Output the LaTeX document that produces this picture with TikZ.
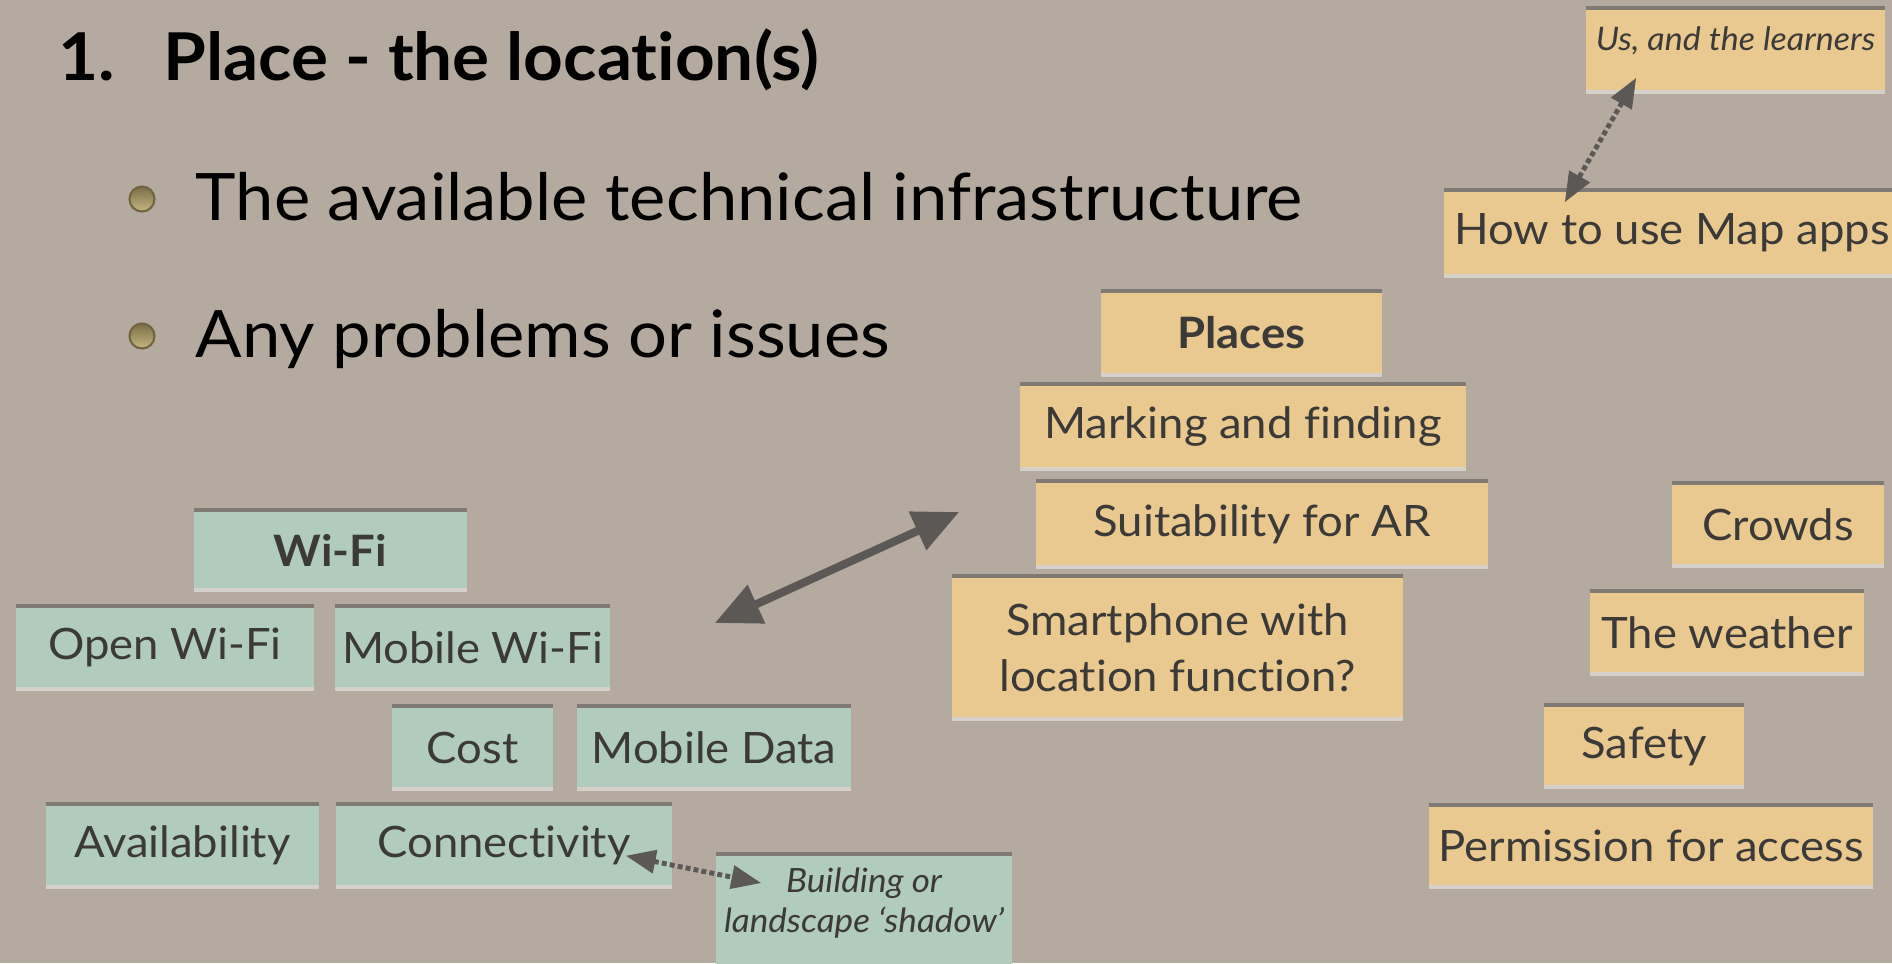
\documentclass[tikz,border=0pt]{standalone}
\usepackage{fontspec}
\setmainfont{Lato}[FakeStretch=1.05,Ligatures={TeX,NoCommon}]
\usepackage{tikz}
\usetikzlibrary{
  positioning, arrows.meta, shadows
}

\definecolor{board}{HTML}{B4AAA0}
\definecolor{cardtan}{HTML}{E9C98F}
\definecolor{sage}{HTML}{B1CBBC}
\definecolor{ink}{HTML}{3B3A39}
\definecolor{arrowgrey}{HTML}{5B5855}
\definecolor{bulletgold}{HTML}{BCA96C}

\tikzset{
  card/.style={rectangle,inner sep=0pt,text=ink,font=\fontsize{12.3}{15.9}\selectfont,
    drop shadow={shadow xshift=0pt,shadow yshift=1.1pt,opacity=0.4,fill=black!80},
    drop shadow={shadow xshift=0pt,shadow yshift=-1pt,opacity=0.45,fill=white}},
  tancard/.style={card,fill=cardtan},
  sagecard/.style={card,fill=sage},
  note/.style={font=\fontsize{9.5}{11.4}\selectfont\itshape},
  heading/.style={anchor=base west,inner sep=0pt,font=\fontsize{18.6}{23}\selectfont},
  bullet/.style={circle,minimum size=0.25cm,inner sep=0pt,draw=black!40!bulletgold,line width=0.6pt,
    top color=bulletgold!65!black,bottom color=bulletgold!85!white},
  link/.style={arrowgrey,line width=2.3pt,
    {Triangle[length=13pt,width=11.5pt]}-{Triangle[length=13pt,width=11.5pt]}},
  dotlink/.style={arrowgrey,line width=1.4pt,dash pattern=on 1.4pt off 0.9pt,
    {Triangle[length=8.5pt,width=6.5pt]}-{Triangle[length=8.5pt,width=6.5pt]}}
}

\begin{document}
\begin{tikzpicture}[x=0.01cm,y=-0.01cm]
  \useasboundingbox (0,0) rectangle (1892,963);
  \clip (0,0) rectangle (1892,963);
  \fill[board] (0,0) rectangle (1892,963);

  \node at (58,80) [heading,font=\fontsize{18.75}{23}\selectfont\bfseries] (num) {1.};
  \node at (163,80) [heading,font=\fontsize{18.75}{23}\selectfont\bfseries] (title) {Place - the location(s)};
  \node at (142,199) [bullet] (dotone) {};
  \node at (195,220) [heading] (itemone) {The available technical infrastructure};
  \node at (142,336) [bullet] (dottwo) {};
  \node at (195,357) [heading] (itemtwo) {Any problems or issues};

  \node at (1735.5,50) [tancard,note,font=\fontsize{9.2}{11.4}\selectfont\itshape,minimum width=2.99cm,minimum height=0.8cm,text height=0.4cm,text depth=0.4cm] (us) {Us, and the learners};
  \node at (1672,233) [tancard,minimum width=4.55cm,minimum height=0.82cm] (how) {How to use Map apps};
  \node at (1241.5,333) [tancard,minimum width=2.81cm,minimum height=0.8cm,font=\fontsize{12.3}{15.9}\selectfont\bfseries] (places) {Places};
  \node at (1243,426.5) [tancard,minimum width=4.46cm,minimum height=0.81cm] (marking) {Marking and finding};
  \node at (1262,524) [tancard,minimum width=4.52cm,minimum height=0.82cm] (suit) {Suitability for AR};
  \node at (1778,524.5) [tancard,minimum width=2.12cm,minimum height=0.79cm] (crowds) {Crowds};
  \node at (1177.5,647.5) [tancard,align=center,minimum width=4.51cm,minimum height=1.39cm] (smart) {Smartphone with\\location function?};
  \node at (1727,632.5) [tancard,minimum width=2.74cm,minimum height=0.79cm] (weather) {The weather};
  \node at (1644,746) [tancard,minimum width=2cm,minimum height=0.78cm] (safety) {Safety};
  \node at (1651,846) [tancard,minimum width=4.44cm,minimum height=0.78cm] (permission) {Permission for access};

  \node at (330.5,550) [sagecard,minimum width=2.73cm,minimum height=0.76cm,font=\fontsize{12.3}{15.9}\selectfont\bfseries] (wifi) {Wi-Fi};
  \node at (165,647.5) [sagecard,minimum width=2.98cm,minimum height=0.79cm] (openwifi) {Open Wi-Fi};
  \node at (472.5,647.5) [sagecard,minimum width=2.75cm,minimum height=0.79cm] (mobilewifi) {Mobile Wi-Fi};
  \node at (472.5,747.5) [sagecard,minimum width=1.61cm,minimum height=0.79cm] (cost) {Cost};
  \node at (714,747.5) [sagecard,minimum width=2.74cm,minimum height=0.79cm] (mobiledata) {Mobile Data};
  \node at (182.5,845.5) [sagecard,minimum width=2.73cm,minimum height=0.79cm] (avail) {Availability};
  \node at (504,845.5) [sagecard,minimum width=3.36cm,minimum height=0.79cm] (connect) {Connectivity};
  \node at (864,855) [sagecard,note,anchor=north,align=center,minimum width=2.96cm,inner ysep=0.12cm] (building) {Building or\\landscape ‘shadow’\rule[-0.6cm]{0pt}{0.6cm}};

  \coordinate (infraend) at ([xshift=1.04cm,yshift=0.245cm]mobilewifi.east);
  \coordinate (placeend) at ([xshift=-0.76cm,yshift=0.12cm]suit.west);
  \draw[link] (infraend) -- (placeend);

  \coordinate (usend) at ([xshift=0.51cm,yshift=0.13cm]us.south west);
  \coordinate (howend) at ([xshift=1.21cm,yshift=-0.11cm]how.north west);
  \draw[dotlink] (usend) -- (howend);

  \coordinate (connectend) at ([xshift=-0.47cm,yshift=0.30cm]connect.south east);
  \coordinate (buildingend) at ([xshift=0.46cm,yshift=-0.28cm]building.north west);
  \draw[dotlink] (connectend) -- (buildingend);
\end{tikzpicture}
\end{document}
